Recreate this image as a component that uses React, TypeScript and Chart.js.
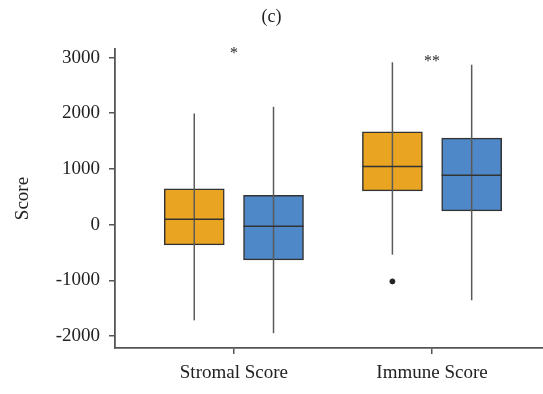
import React, { useEffect, useRef } from "react";
import { Chart, registerables } from "chart.js";

Chart.register(...registerables);

// ---- data ----
const categories = ["Stromal Score", "Immune Score"];
const groupNames = ["Group A", "Group B"];
const yTicks = [-2000, -1000, 0, 1000, 2000, 3000];

const orangeMin = [-1720, -540];
const orangeQ1 = [-365, 605];
const orangeMedian = [95, 1045];
const orangeQ3 = [640, 1665];
const orangeMax = [1995, 2915];

const blueMin = [-1950, -1360];
const blueQ1 = [-635, 245];
const blueMedian = [-30, 888];
const blueQ3 = [527, 1552];
const blueMax = [2115, 2870];

const outlierGroup = [0];
const outlierCategory = [1];
const outlierValues = [-1020];

const sigLabels = ["*", "**"];
const sigValues = [3145, 3010];

// ---- styling ----
const groupColors = ["#E9A521", "#4E88C8"];
const groupOffsets = [-0.2, 0.2];
const FONT = '"Liberation Serif", "Times New Roman", serif';

const stats = [
  { min: orangeMin, q1: orangeQ1, med: orangeMedian, q3: orangeQ3, max: orangeMax },
  { min: blueMin, q1: blueQ1, med: blueMedian, q3: blueQ3, max: blueMax },
];

const boxPlugin = {
  id: "boxExtras",
  afterDatasetsDraw(chart: any) {
    const { ctx } = chart;
    const xs = chart.scales.x;
    const ys = chart.scales.y;
    ctx.save();
    stats.forEach((s, g) => {
      const meta = chart.getDatasetMeta(g);
      categories.forEach((_, i) => {
        const x = xs.getPixelForValue(i + 1 + groupOffsets[g]);
        const el = meta.data[i];
        const half = el ? el.width / 2 : 30;
        // whisker
        ctx.strokeStyle = "#5a5a5a";
        ctx.lineWidth = 1.5;
        ctx.beginPath();
        ctx.moveTo(x, ys.getPixelForValue(s.max[i]));
        ctx.lineTo(x, ys.getPixelForValue(s.min[i]));
        ctx.stroke();
        // median
        ctx.strokeStyle = "#333333";
        ctx.lineWidth = 1.5;
        const ym = ys.getPixelForValue(s.med[i]);
        ctx.beginPath();
        ctx.moveTo(x - half, ym);
        ctx.lineTo(x + half, ym);
        ctx.stroke();
      });
    });
    // significance labels
    ctx.fillStyle = "#2a2a2a";
    ctx.font = `16px ${FONT}`;
    ctx.textAlign = "center";
    ctx.textBaseline = "alphabetic";
    sigLabels.forEach((t, i) => {
      const x = xs.getPixelForValue(i + 1);
      const y = ys.getPixelForValue(sigValues[i]);
      ctx.fillText(t, x, y + 9);
    });
    ctx.restore();
  },
};

export default function App() {
  const ref = useRef<HTMLCanvasElement | null>(null);

  useEffect(() => {
    document.body.style.margin = "0";
    const canvas = ref.current;
    if (!canvas) return;

    const boxDatasets = stats.map((s, g) => ({
      type: "bar" as const,
      label: groupNames[g],
      data: categories.map((_, i) => ({ x: i + 1 + groupOffsets[g], y: [s.q1[i], s.q3[i]] })),
      backgroundColor: groupColors[g],
      borderColor: "#333333",
      borderWidth: 1.5,
      borderSkipped: false,
      barThickness: 60,
      grouped: false,
    }));

    const outlierDataset = {
      type: "scatter" as const,
      label: "outliers",
      data: outlierValues.map((v, k) => ({
        x: outlierCategory[k] + 1 + groupOffsets[outlierGroup[k]],
        y: v,
      })),
      backgroundColor: "#222222",
      borderColor: "#222222",
      pointRadius: 2.5,
    };

    const chart = new Chart(canvas, {
      type: "bar",
      data: { datasets: [...boxDatasets, outlierDataset] as any },
      plugins: [boxPlugin],
      options: {
        animation: false,
        responsive: false,
        layout: { autoPadding: false, padding: { left: 0, right: 0, top: 0, bottom: 0 } },
        plugins: {
          legend: { display: false },
          tooltip: { enabled: false },
          title: {
            display: true,
            text: "(c)",
            color: "#222222",
            font: { family: FONT, size: 18, weight: "normal" },
            padding: { top: 6, bottom: 21.4 },
          },
        },
        scales: {
          x: {
            type: "linear",
            offset: false,
            min: 0.4,
            max: 2.56,
            afterBuildTicks: (scale: any) => {
              scale.ticks = categories.map((_, i) => ({ value: i + 1 }));
            },
            afterFit: (scale: any) => {
              scale.height = 46;
              scale.paddingRight = 0;
              scale.paddingLeft = 0;
            },
            ticks: {
              callback: (v: any) => categories[Math.round(Number(v)) - 1] ?? "",
              color: "#222222",
              font: { family: FONT, size: 19 },
              padding: 8,
              maxRotation: 0,
              autoSkip: false,
            },
            grid: { offset: false, drawOnChartArea: false, drawTicks: true, tickLength: 6, color: "#555555", lineWidth: 1.5 },
            border: { display: true, color: "#555555", width: 1.8 },
          },
          y: {
            type: "linear",
            min: -2216,
            max: 3153,
            afterBuildTicks: (scale: any) => {
              scale.ticks = yTicks.map((v) => ({ value: v }));
            },
            afterFit: (scale: any) => {
              scale.width = 115;
            },
            ticks: {
              callback: (v: any) => String(v),
              color: "#222222",
              font: { family: FONT, size: 19 },
              padding: 9,
            },
            title: {
              display: true,
              text: "Score",
              color: "#222222",
              font: { family: FONT, size: 19 },
              padding: { top: 12, bottom: 0 },
            },
            grid: { drawOnChartArea: false, drawTicks: true, tickLength: 6, color: "#555555", lineWidth: 1.5 },
            border: { display: true, color: "#555555", width: 1.8 },
          },
        },
      } as any,
    });

    return () => chart.destroy();
  }, []);

  return <canvas ref={ref} width={543} height={394} style={{ display: "block" }} />;
}
